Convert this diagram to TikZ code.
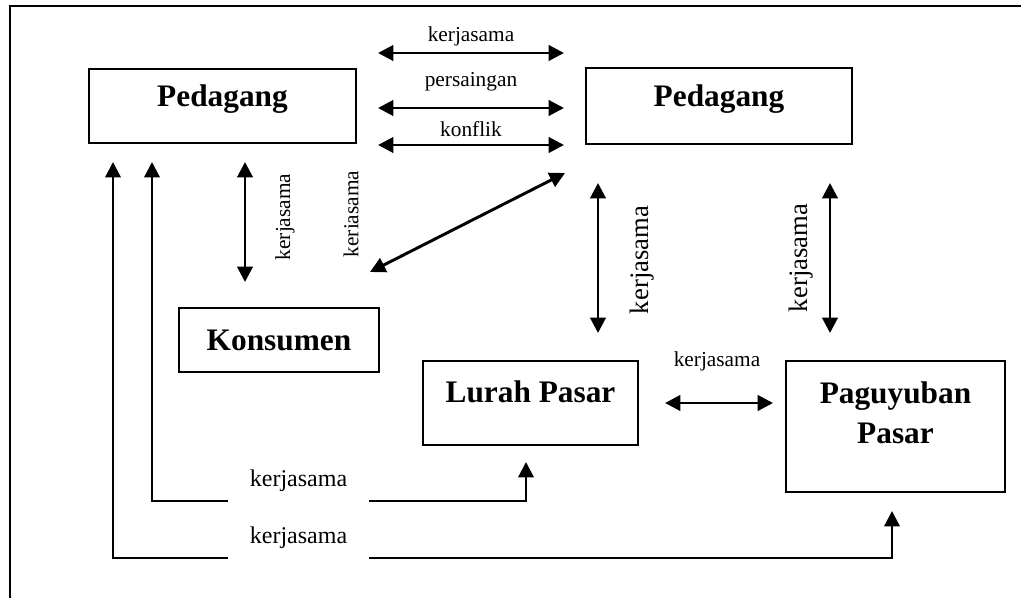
\documentclass[tikz,border=0pt]{standalone}
\usepackage{fontspec}
\setmainfont{Liberation Serif}
\usetikzlibrary{arrows.meta,positioning,calc}
\tikzset{
  actorbox/.style={draw,line width=1.7pt,inner sep=0pt,align=center,font=\fontsize{23.5}{30}\selectfont\bfseries,text height=16pt},
  relarrow/.style={{Triangle[length=11.5pt,width=11.5pt]}-{Triangle[length=11.5pt,width=11.5pt]},line width=2.2pt},
  linkpath/.style={relarrow,line width=1.7pt},
  rellabel/.style={font=\fontsize{16}{19}\selectfont,inner sep=0pt,anchor=base},
  sidelabel/.style={font=\fontsize{16}{19}\selectfont,inner sep=0pt,rotate=90},
  bigside/.style={sidelabel,font=\fontsize{20}{24}\selectfont},
  gaplabel/.style={fill=white,font=\fontsize{18}{21}\selectfont,inner xsep=16.5pt,inner ysep=0pt,text depth=12.5pt,anchor=base}
}

\begin{document}
\begin{tikzpicture}[x=0.75pt,y=-0.75pt]
\useasboundingbox (0,0) rectangle (1021,598);
\draw[line width=1.7pt] (10,598) -- (10,6) -- (1021,6);

% actors
\node[actorbox,minimum width=200pt,minimum height=56pt,text depth=14.5pt] (pedL) at (222.5,106) {Pedagang};
\node[actorbox,minimum width=199.5pt,minimum height=57pt,text depth=14.5pt] (pedR) at (719,106) {Pedagang};
\node[actorbox,minimum width=150pt,minimum height=48pt,text depth=0.5pt] (kons) at (279,340) {Konsumen};
\node[actorbox,minimum width=161pt,minimum height=63pt,text depth=17pt] (lurah) at (530.5,403) {Lurah Pasar};
\node[actorbox,minimum width=164pt,minimum height=98pt,text height=46pt,text depth=21pt] (pag) at (895.5,426.5) {Paguyuban\\Pasar};

% between the two traders
\coordinate (kerA) at (378,53);  \coordinate (kerB) at (564,53);
\coordinate (sainA) at (378,108); \coordinate (sainB) at (564,108);
\coordinate (konA) at (378,145); \coordinate (konB) at (564,145);
\draw[relarrow] (kerA) -- (kerB);
\draw[relarrow] (sainA) -- (sainB);
\draw[relarrow] (konA) -- (konB);
\node[rellabel] (kerT) at (471,42) {kerjasama};
\node[rellabel] (sainT) at (471,87) {persaingan};
\node[rellabel] (konT) at (471,137) {konflik};

% traders and buyers
\coordinate (konsA) at (245,162); \coordinate (konsB) at (245,282);
\draw[relarrow] (konsA) -- (konsB);
\node[sidelabel] (konsT) at (285,217) {kerjasama};
\coordinate (diagA) at (370,272); \coordinate (diagB) at (565,173);
\draw[relarrow] (diagA) -- (diagB);
\node[sidelabel] (diagT) at (351,214) {keriasama};

% traders and market offices
\coordinate (lurA) at (598,183); \coordinate (lurB) at (598,333);
\draw[relarrow] (lurA) -- (lurB);
\node[bigside] (lurT) at (642.5,260) {kerjasama};
\coordinate (pagA) at (830,183); \coordinate (pagB) at (830,333);
\draw[relarrow] (pagA) -- (pagB);
\node[bigside] (pagT) at (801,258) {kerjasama};
\coordinate (offA) at (665,403); \coordinate (offB) at (773,403);
\draw[relarrow] (offA) -- (offB);
\node[rellabel] (offT) at (717,367) {kerjasama};

% long links along the bottom
\coordinate (inA) at (152,162); \coordinate (inB) at (526,462); \coordinate (inY) at (0,501);
\draw[linkpath] (inA) -- (inA |- inY) -| (inB);
\node[gaplabel] (inT) at (298.5,486) {kerjasama};
\coordinate (outA) at (113,162); \coordinate (outB) at (892,511); \coordinate (outY) at (0,558);
\draw[linkpath] (outA) -- (outA |- outY) -| (outB);
\node[gaplabel] (outT) at (298.5,543) {kerjasama};
\end{tikzpicture}
\end{document}
